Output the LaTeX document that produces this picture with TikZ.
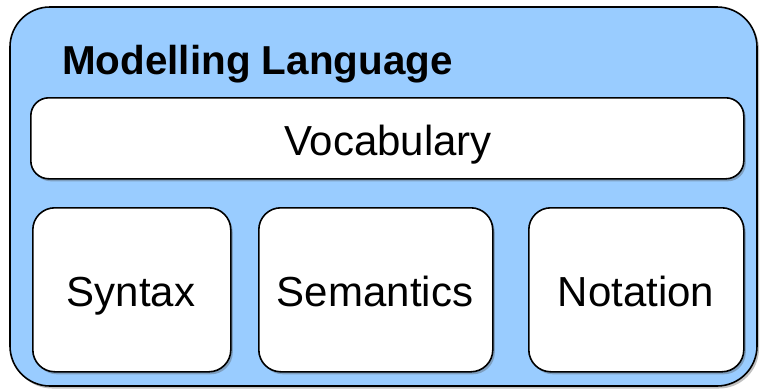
\documentclass[tikz,border=0pt]{standalone}
\usepackage{fontspec}
\setmainfont{Liberation Sans}
\usetikzlibrary{shadows}
\definecolor{panelblue}{HTML}{99CCFF}
\tikzset{
  softshadow/.style={drop shadow={shadow xshift=2pt, shadow yshift=-2.5pt, opacity=0.35, fill=black!70}},
  panel/.style={draw=black, line width=1.6pt, fill=panelblue, rounded corners=40pt, softshadow},
  part/.style={draw=black, line width=1.6pt, fill=white, rounded corners=22pt, softshadow},
  label/.style={font=\fontsize{42}{48}\selectfont, inner sep=0pt},
}
\begin{document}
\begin{tikzpicture}[x=1pt, y=-1pt]
  \useasboundingbox (0,0) rectangle (764,391);
  % outer container
  \path[panel] (10,7) rectangle (757,386);
  \node[label, font=\fontsize{40.4}{46}\selectfont\bfseries, anchor=base west] (title) at (62,74) {Modelling Language};
  % vocabulary bar
  \node[part, draw, rounded corners=18pt, minimum width=713pt, minimum height=81pt, anchor=north west] (vocab) at (30,97) {};
  \node[label, anchor=base] (vocabtext) at (388,155) {Vocabulary};
  % three lower parts
  \node[part, draw, minimum width=198pt, minimum height=164pt, anchor=north west] (syntax) at (32,207) {};
  \node[part, draw, minimum width=234pt, minimum height=164pt, anchor=north west] (semantics) at (258,207) {};
  \node[part, draw, minimum width=215pt, minimum height=164pt, anchor=north west] (notation) at (528,207) {};
  \node[label, anchor=base] at (131,306) {Syntax};
  \node[label, anchor=base] at (375,306) {Semantics};
  \node[label, anchor=base] at (636,306) {Notation};
\end{tikzpicture}
\end{document}
